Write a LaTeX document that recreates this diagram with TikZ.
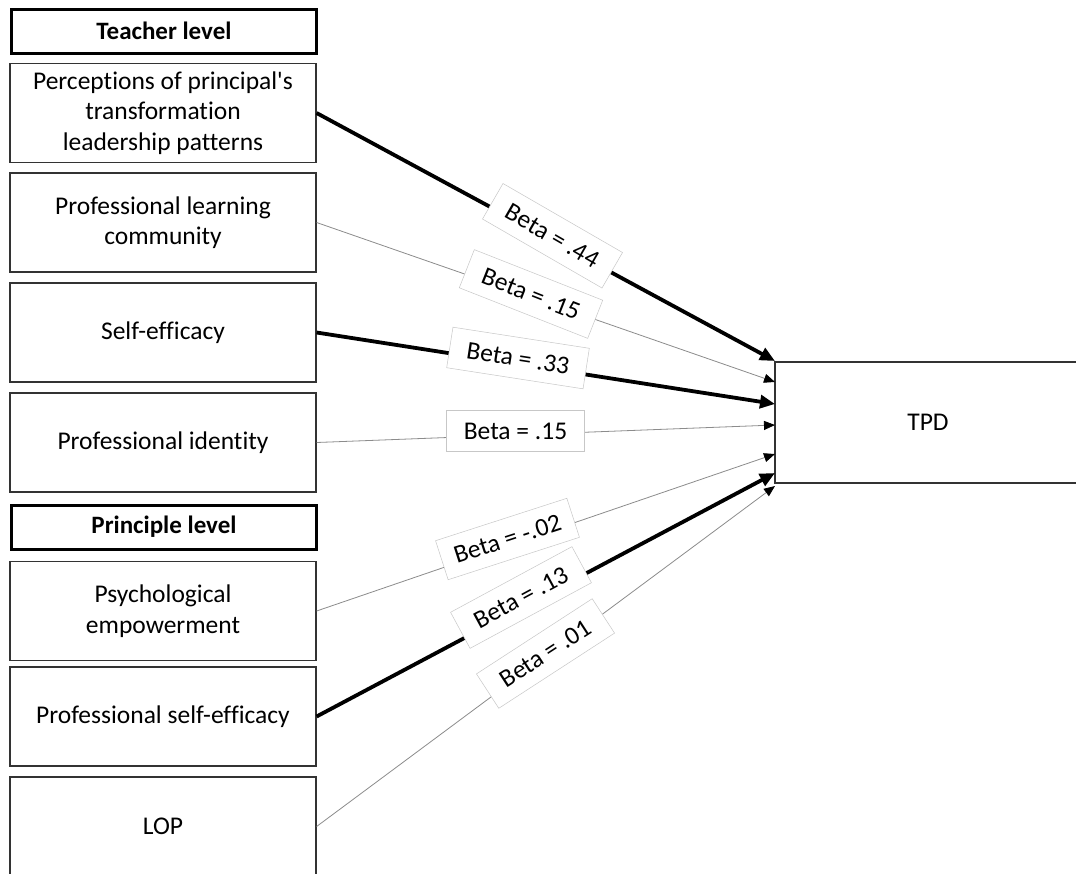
\documentclass[tikz,border=0pt]{standalone}
\usepackage{fontspec}
\setmainfont{Carlito}[RawFeature=-liga]
\usetikzlibrary{arrows.meta}
\begin{document}
\begin{tikzpicture}[x=1pt,y=-1pt,
  box/.style={draw=black!80, line width=1.2pt, minimum width=306pt, minimum height=99pt, align=center, inner sep=0pt, font=\fontsize{25.5}{30.5}\selectfont},
  hdr/.style={draw=black, line width=3pt, minimum width=305pt, minimum height=44pt, inner sep=0pt, font=\bfseries\fontsize{25}{30}\selectfont},
  strong/.style={draw=black, line width=3.8pt, -{Triangle[length=15pt,width=13pt]}},
  weak/.style={draw=black!45, line width=0.8pt, -{Triangle[length=11pt,width=9pt,color=black]}},
  beta/.style={draw=black!22, line width=0.5pt, fill=white, minimum width=138pt, minimum height=41pt, inner sep=0pt, font=\fontsize{25.5}{30.5}\selectfont}
]
\useasboundingbox (0,0) rectangle (1076,873);
\fill[white] (0,0) rectangle (1076,873);

\node[hdr] (th) at (164,31) {Teacher level};
\node[box] (b1) at (163,113) {Perceptions of principal\textquotesingle s\\transformation\\leadership patterns};
\node[box] (b2) at (163,222.5) {Professional learning\\community};
\node[box] (b3) at (163,332.5) {Self-efficacy};
\node[box] (b4) at (163,442.5) {Professional identity};
\node[hdr] (ph) at (164,527) {Principle level};
\node[box] (b5) at (163,611) {Psychological\\empowerment};
\node[box] (b6) at (163,716.5) {Professional self-efficacy};
\node[box] (b7) at (163,826.5) {LOP};
\node[box, minimum height=121pt] (tpd) at (928,422.5) {TPD};

\coordinate (e1) at (775,361);
\coordinate (e2) at (775,382);
\coordinate (e3) at (775,404);
\coordinate (e4) at (775,425);
\coordinate (e5) at (775,454);
\coordinate (e6) at (775,473);
\coordinate (e7) at (775,486);

\draw[strong] (b1.east) -- (e1);
\draw[weak] (b2.east) -- (e2);
\draw[strong] (b3.east) -- (e3);
\draw[weak] (b4.east) -- (e4);
\draw[weak] (b5.east) -- (e5);
\draw[strong] (b6.east) -- (e6);
\draw[weak] (b7.east) -- (e7);

\node[beta, rotate=-30] (l1) at (552.5,235.75) {Beta = .44};
\node[beta, rotate=-21.5] (l2) at (531,294) {Beta = .15};
\node[beta, rotate=-8.8] (l3) at (518,358) {Beta = .33};
\node[beta] (l4) at (515.5,431) {Beta = .15};
\node[beta, rotate=17.9] (l5) at (507.5,539) {Beta = -.02};
\node[beta, rotate=28.4] (l6) at (521,597.5) {Beta = .13};
\node[beta, rotate=33] (l7) at (545.5,653.5) {Beta = .01};
\end{tikzpicture}
\end{document}
